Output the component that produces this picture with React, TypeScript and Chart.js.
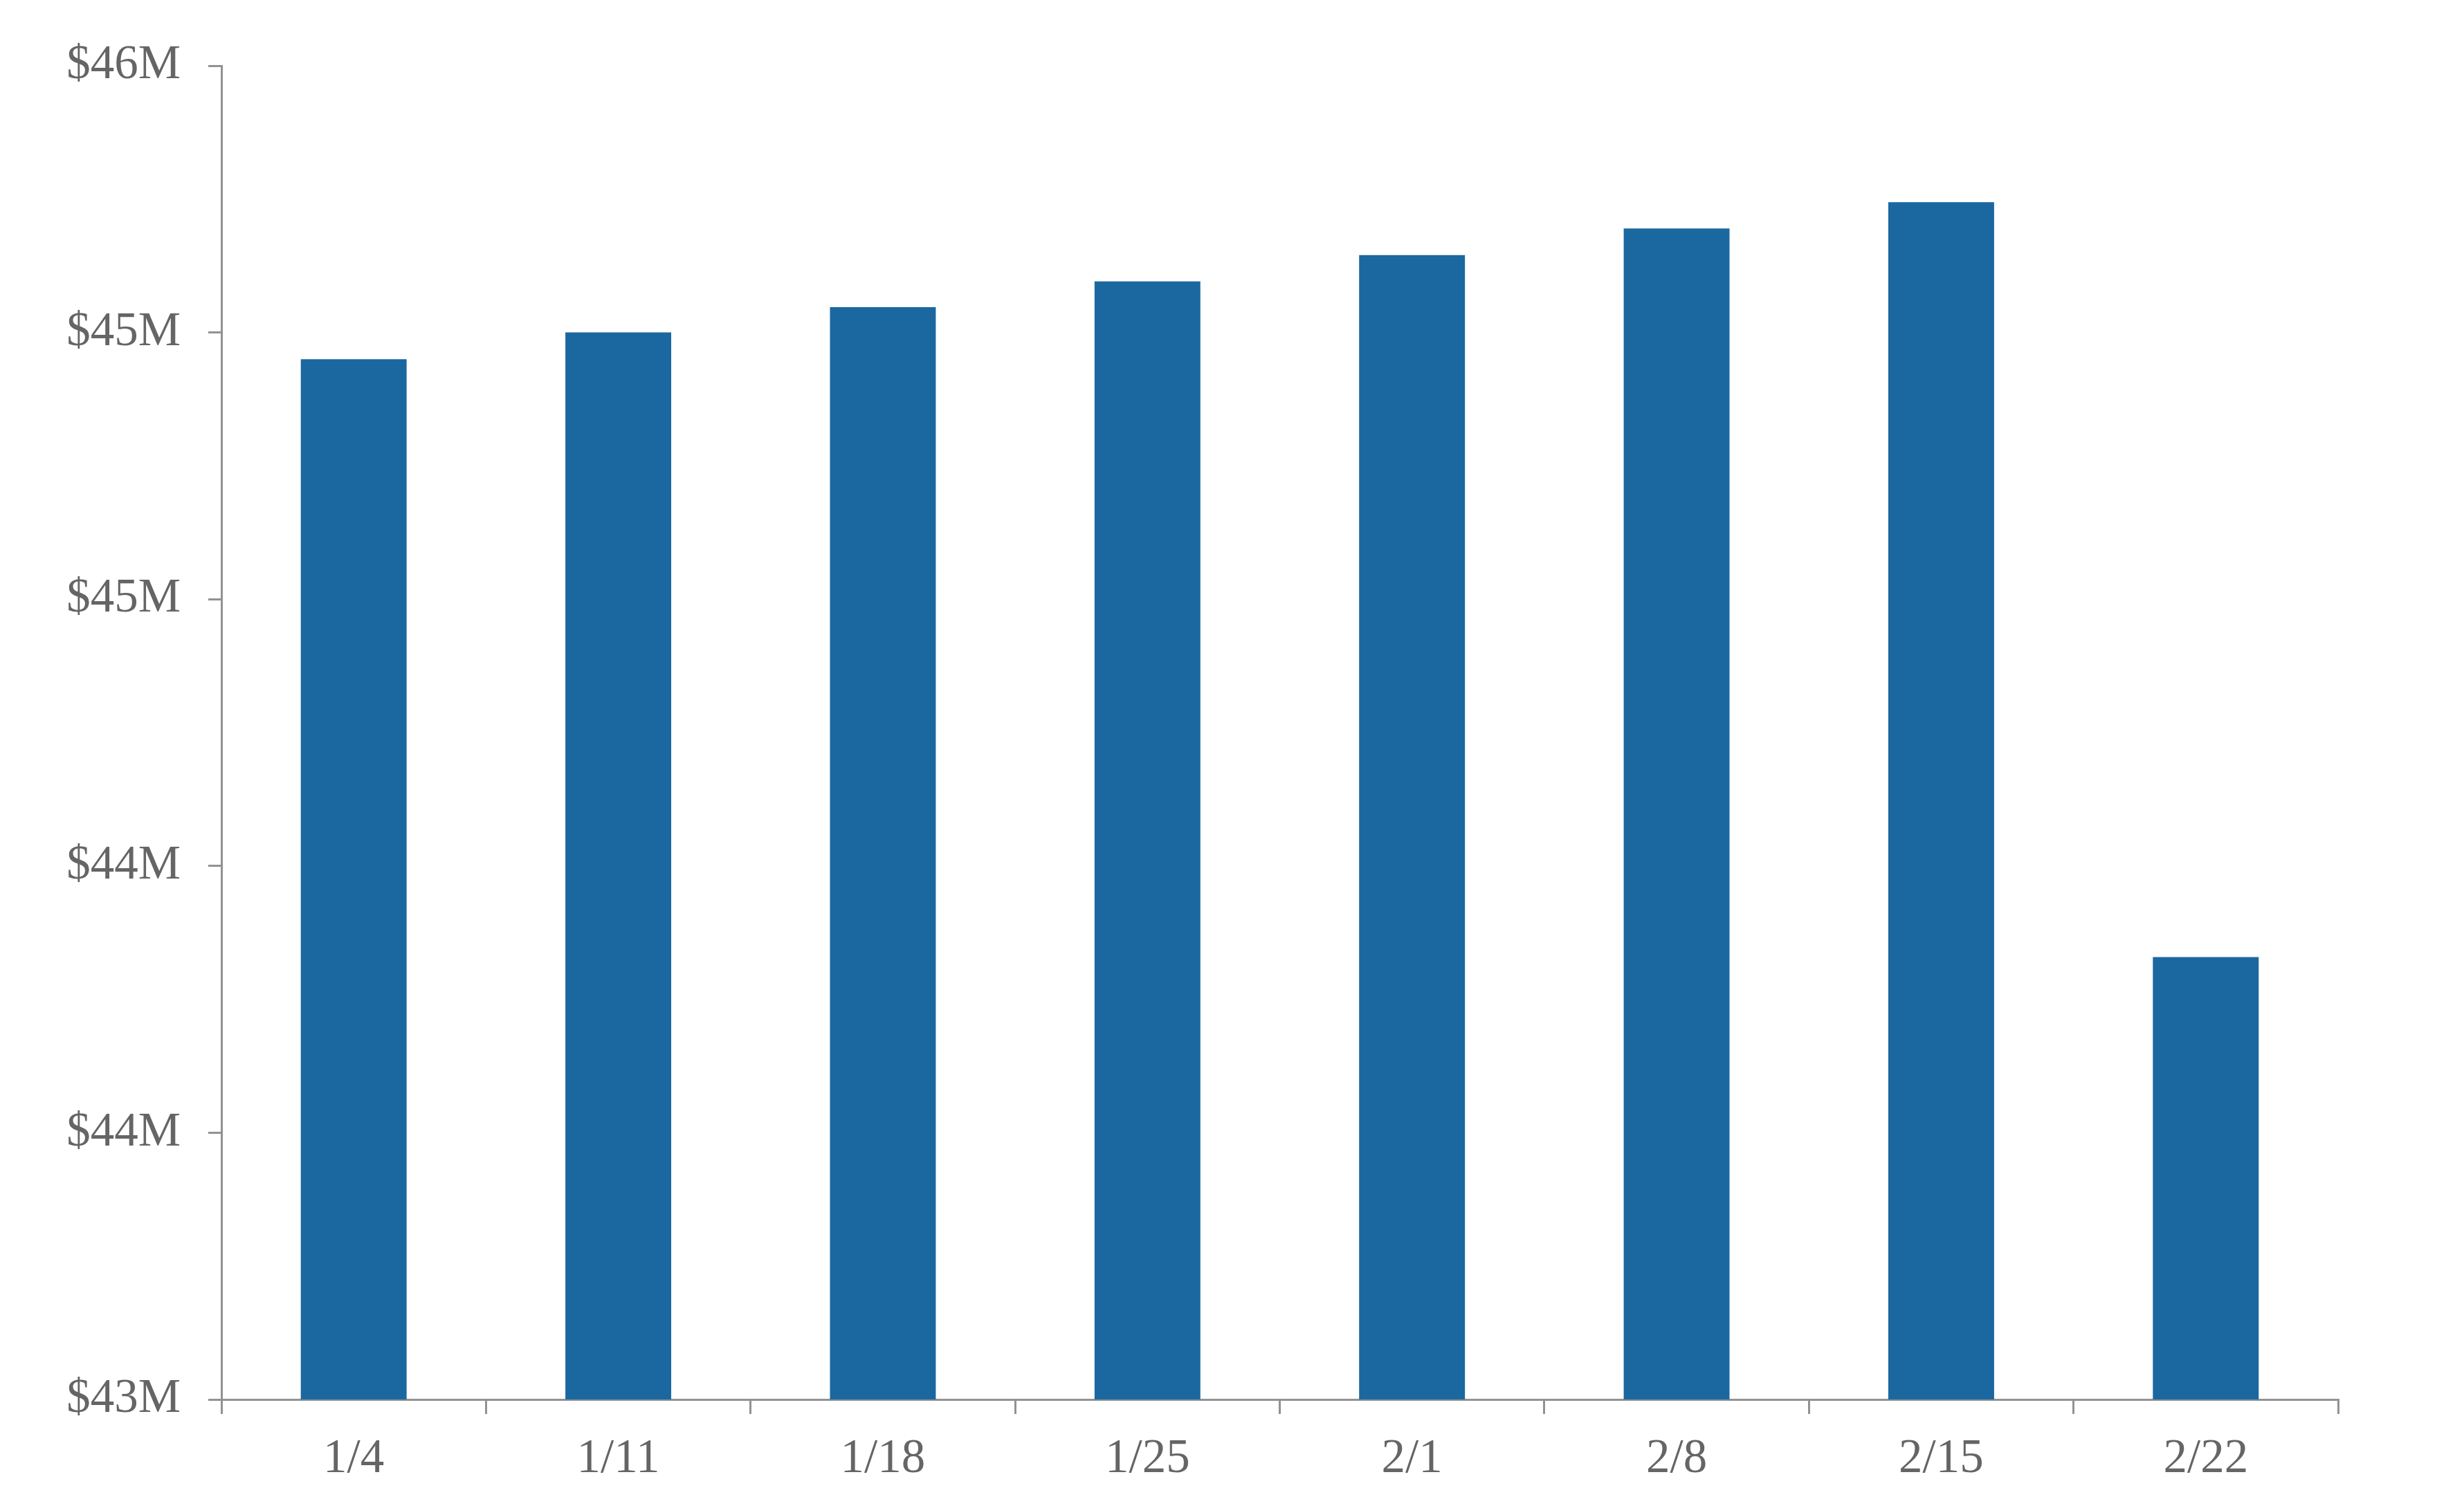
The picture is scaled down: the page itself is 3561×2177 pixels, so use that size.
import React, { useEffect, useRef } from "react";
import { Chart, registerables } from "chart.js";

Chart.register(...registerables);

const categories = ["1/4", "1/11", "1/18", "1/25", "2/1", "2/8", "2/15", "2/22"];
const values = [45.34, 45.4, 45.457, 45.515, 45.574, 45.634, 45.693, 43.995];
const yMin = 43;
const yMax = 46;
const yStep = 0.6;

const W = 3561;
const H = 2177;

export default function App() {
  const ref = useRef<HTMLCanvasElement | null>(null);

  useEffect(() => {
    if (!ref.current) return;
    const font = { family: "'Liberation Serif', serif", size: 69 };
    const axisColor = "#929292";
    const textColor = "#656565";
    const chart = new Chart(ref.current, {
      type: "bar",
      data: {
        labels: categories,
        datasets: [
          {
            data: values,
            backgroundColor: "#1B68A0",
            borderWidth: 0,
            barPercentage: 0.4,
            categoryPercentage: 1.0,
          },
        ],
      },
      options: {
        responsive: false,
        animation: false,
        layout: { padding: { top: 95, right: 182, bottom: 0, left: 0 } },
        plugins: { legend: { display: false }, tooltip: { enabled: false } },
        scales: {
          x: {
            offset: true,
            grid: {
              display: true,
              offset: true,
              drawOnChartArea: false,
              drawTicks: true,
              tickLength: 21,
              color: axisColor,
              lineWidth: 3,
            },
            border: { display: true, color: axisColor, width: 3 },
            ticks: { color: textColor, font, padding: 24, maxRotation: 0 },
            afterFit: (scale: any) => {
              scale.height = 154;
            },
          },
          y: {
            min: yMin,
            max: yMax,
            grid: {
              display: true,
              drawOnChartArea: false,
              drawTicks: true,
              tickLength: 19,
              color: axisColor,
              lineWidth: 3,
            },
            border: { display: true, color: axisColor, width: 3 },
            ticks: {
              stepSize: yStep,
              color: textColor,
              font,
              padding: 40,
              callback: (v: any) => "$" + Math.round(Number(v)) + "M",
            },
            afterFit: (scale: any) => {
              scale.width = 320;
            },
          },
        },
      },
    });
    return () => chart.destroy();
  }, []);

  return (
    <div style={{ position: "fixed", left: 0, top: 0, width: W, height: H, background: "#fff" }}>
      <canvas ref={ref} width={W} height={H} style={{ display: "block", width: W, height: H }} />
    </div>
  );
}
